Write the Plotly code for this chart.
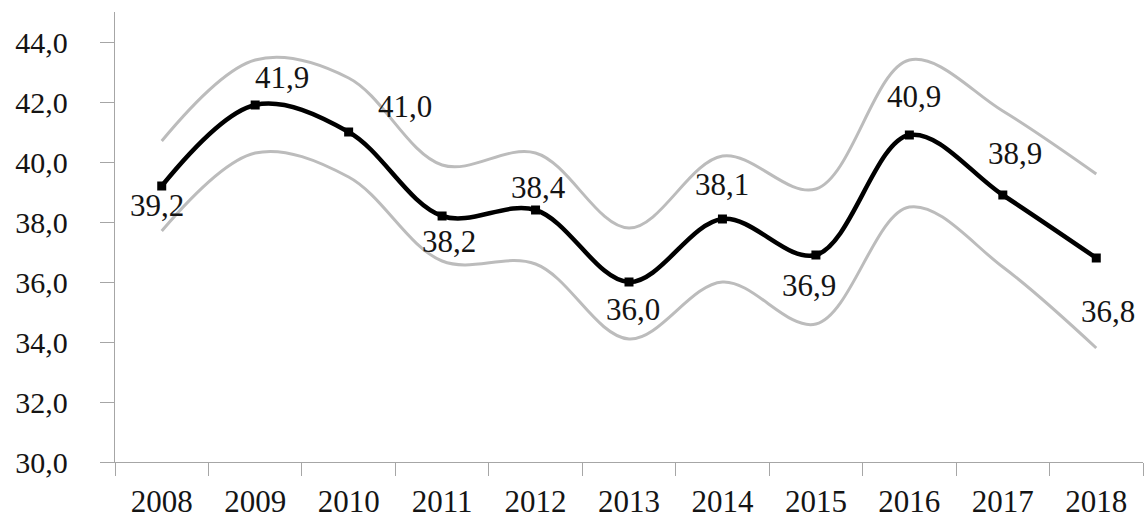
import plotly.graph_objects as go

years = ["2008", "2009", "2010", "2011", "2012", "2013", "2014", "2015", "2016", "2017", "2018"]
values = [39.2, 41.9, 41.0, 38.2, 38.4, 36.0, 38.1, 36.9, 40.9, 38.9, 36.8]
upper = [40.7, 43.4, 42.8, 39.9, 40.3, 37.8, 40.2, 39.1, 43.4, 41.7, 39.6]
lower = [37.7, 40.3, 39.5, 36.7, 36.6, 34.1, 36.0, 34.6, 38.5, 36.5, 33.8]
labels = ["39,2", "41,9", "41,0", "38,2", "38,4", "36,0", "38,1", "36,9", "40,9", "38,9", "36,8"]
y_ticks = [30, 32, 34, 36, 38, 40, 42, 44]
y_tick_text = ["30,0", "32,0", "34,0", "36,0", "38,0", "40,0", "42,0", "44,0"]

# label placement offsets (pixels) relative to each point
label_dx = [-5, 27, 56, 7, 3, 4, 0, -7, 5, 12, 12]
label_dy = [-19, 28, 26, -25, 23, -27, 35, -30, 39, 42, -53]

FONT = "Liberation Serif"
GRAY = "rgb(188,188,188)"
TXT = "#141414"

fig = go.Figure()
for band in (upper, lower):
    fig.add_trace(go.Scatter(
        x=years, y=band, mode="lines",
        line=dict(color=GRAY, width=3, shape="spline", smoothing=1.0),
        hoverinfo="skip", showlegend=False,
    ))
fig.add_trace(go.Scatter(
    x=years, y=values, mode="lines+markers",
    line=dict(color="black", width=4.5, shape="spline", smoothing=1.0),
    marker=dict(symbol="square", size=9, color="black"),
    showlegend=False,
))

for i, (v, t, dx, dy) in enumerate(zip(values, labels, label_dx, label_dy)):
    fig.add_annotation(
        x=i, y=v, xref="x", yref="y", text=t, showarrow=False,
        xanchor="center", yanchor="middle",
        xshift=dx, yshift=dy,
        font=dict(family=FONT, size=31, color=TXT),
    )

fig.update_layout(
    width=1145, height=524,
    margin=dict(l=115, r=2, t=12, b=62),
    paper_bgcolor="white", plot_bgcolor="white",
    font=dict(family=FONT, size=30, color=TXT),
)
fig.update_xaxes(
    type="category", range=[-0.5, 10.5], automargin=False,
    showline=True, linecolor="#a6a6a6", linewidth=1.3,
    ticks="outside", ticklen=13, tickcolor="#a6a6a6", tickwidth=1.3,
    tickson="boundaries", showgrid=False, zeroline=False,
    ticklabelstandoff=12,
    tickfont=dict(family=FONT, size=31, color=TXT),
)
fig.update_yaxes(
    range=[30, 45], tickvals=y_ticks, ticktext=y_tick_text, automargin=False,
    showline=True, linecolor="#a6a6a6", linewidth=1.3,
    ticks="outside", ticklen=14, tickcolor="#a6a6a6", tickwidth=1.3,
    showgrid=False, zeroline=False,
    ticklabelstandoff=26,
    tickfont=dict(family=FONT, size=30, color=TXT),
)

fig.write_html("out.html")
